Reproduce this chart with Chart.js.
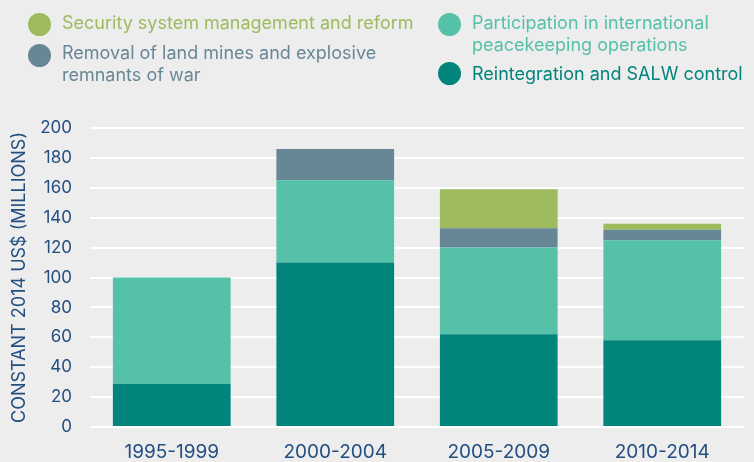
<!DOCTYPE html>
<html>
<head>
<meta charset="utf-8">
<script src="https://cdn.jsdelivr.net/npm/chart.js@4.4.1/dist/chart.umd.min.js"></script>
<style>
  html, body { margin: 0; padding: 0; background: #ededed; }
  #wrap { position: relative; width: 754px; height: 462px; font-family: Inter, "Open Sans", sans-serif; }
  #chart { position: absolute; left: 0; top: 0; }
  .item { position: absolute; font-size: 18px; line-height: 22px; white-space: nowrap; }
  .dot { position: absolute; width: 23px; height: 23px; border-radius: 50%; }
</style>
</head>
<body>
<div id="wrap">
  <canvas id="chart" width="754" height="462"></canvas>
  <div id="legend"></div>
</div>
<script>
const categories = ['1995-1999', '2000-2004', '2005-2009', '2010-2014'];

// values in constant 2014 US$ millions
const reintegration = [29, 110, 62, 58];
const participation = [71, 55, 58, 67];
const removal = [0, 21, 13, 7];
const security = [0, 0, 26, 4];

const yTicks = [0, 20, 40, 60, 80, 100, 120, 140, 160, 180, 200];

const colors = {
  security: '#9dbb5d',
  removal: '#678797',
  participation: '#55c1a9',
  reintegration: '#00847c',
};

const axisBlue = '#234f80';

// legend drawn as html, two columns like the original
const legendItems = [
  { text: 'Security system management and reform', color: colors.security, x: 28, top: 12, dot: 13 },
  { text: 'Removal of land mines and explosive<br>remnants of war', color: colors.removal, x: 28, top: 42, dot: 43.5 },
  { text: 'Participation in international<br>peacekeeping operations', color: colors.participation, x: 438, top: 12, dot: 13 },
  { text: 'Reintegration and SALW control', color: colors.reintegration, x: 438, top: 63, dot: 62 },
];

const legend = document.getElementById('legend');
legendItems.forEach((it) => {
  const dot = document.createElement('div');
  dot.className = 'dot';
  dot.style.left = it.x + 'px';
  dot.style.top = it.dot + 'px';
  dot.style.background = it.color;
  legend.appendChild(dot);

  const label = document.createElement('div');
  label.className = 'item';
  label.style.left = it.x + 34 + 'px';
  label.style.top = it.top + 'px';
  label.style.color = it.color;
  label.innerHTML = it.text;
  legend.appendChild(label);
});

const ctx = document.getElementById('chart').getContext('2d');

new Chart(ctx, {
  type: 'bar',
  data: {
    labels: categories,
    datasets: [
      { label: 'Reintegration and SALW control', data: reintegration, backgroundColor: colors.reintegration },
      { label: 'Participation in international peacekeeping operations', data: participation, backgroundColor: colors.participation },
      { label: 'Removal of land mines and explosive remnants of war', data: removal, backgroundColor: colors.removal },
      { label: 'Security system management and reform', data: security, backgroundColor: colors.security },
    ],
  },
  options: {
    responsive: false,
    animation: false,
    layout: { padding: { top: 128, right: 10, bottom: 0, left: 0 } },
    categoryPercentage: 0.72,
    barPercentage: 1,
    plugins: {
      legend: { display: false },
      tooltip: { enabled: false },
    },
    scales: {
      x: {
        stacked: true,
        afterFit: (scale) => { scale.height = 35; },
        grid: { display: false, drawTicks: false },
        border: { display: false },
        ticks: {
          color: axisBlue,
          font: { family: 'Inter', size: 19 },
          padding: 14,
        },
      },
      y: {
        stacked: true,
        min: 0,
        max: 200,
        afterFit: (scale) => { scale.width = 90; },
        afterBuildTicks: (scale) => { scale.ticks = yTicks.map((v) => ({ value: v })); },
        grid: { color: '#ffffff', lineWidth: 2, drawTicks: false },
        border: { display: false },
        ticks: {
          color: axisBlue,
          font: { family: 'Inter', size: 17 },
          padding: 18,
        },
        title: {
          display: true,
          text: 'CONSTANT 2014 US$ (MILLIONS)',
          color: axisBlue,
          font: { family: 'Inter', size: 18 },
          padding: { top: 9, bottom: 0 },
        },
      },
    },
  },
});
</script>
</body>
</html>
